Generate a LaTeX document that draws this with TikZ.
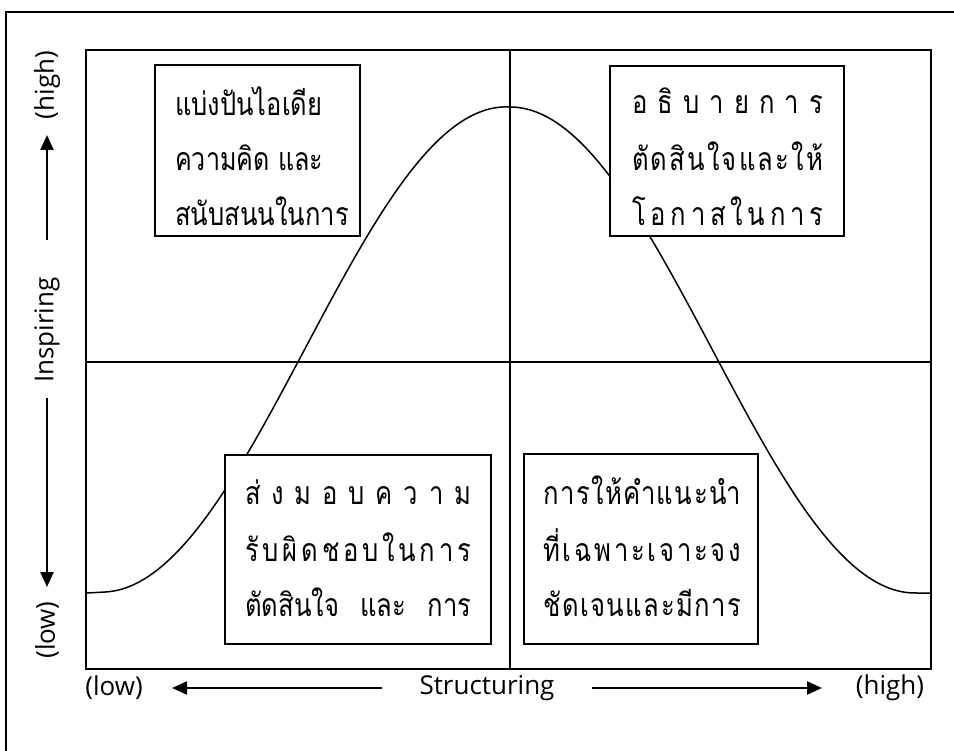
\documentclass[tikz,border=0pt]{standalone}
\usepackage{fontspec}
\setmainfont{Open Sans}
\newfontfamily\thai[Script=Thai]{Loma}
\usetikzlibrary{arrows.meta}
\newlength\natw
\newcommand\fitto[2]{\settowidth{\natw}{#2}%
  \ifdim\fpeval{0.8*\the\natw}pt>#1\relax\scalebox{\fpeval{(#1)/(\the\natw)}}[1]{#2}%
  \else\scalebox{0.8}[1]{\makebox[\fpeval{(#1)/0.8}pt][l]{#2}}\fi}
\begin{document}
\begin{tikzpicture}[x=1pt,y=-1pt,
  lbl/.style={font=\fontsize{26}{30}\selectfont, inner sep=0pt},
  th/.style={font=\thai\fontsize{32}{38}\selectfont, inner sep=0pt, anchor=base west},
  qbox/.style={draw, line width=1.6pt, fill=white, minimum width=#1, inner sep=0pt},
  arr/.style={line width=2.4pt, -{Triangle[length=15pt,width=13pt]}},
  frame/.style={line width=2pt}]
\useasboundingbox (0,0) rectangle (954,751);
% outer frame (open to the right and bottom)
\coordinate (fa) at (954,12);
\coordinate (fb) at (6,12);
\coordinate (fc) at (6,751);
\draw[frame] (fa) -- (fb) -- (fc);
% plot area
\coordinate (pa) at (86,50);
\coordinate (pb) at (931,669);
\draw[line width=1.5pt] (pa) rectangle (pb);
\coordinate (vt) at (510,50);
\coordinate (vb) at (510,669);
\coordinate (hl) at (86,362);
\coordinate (hr) at (931,362);
\draw[line width=1.3pt] (vt) -- (vb);
\draw[line width=1.3pt] (hl) -- (hr);
% bell curve
\draw[line width=1.5pt, samples=240, domain=87:931]
  plot (\x, {593-243*(1+cos(min(abs(\x-510),405)/405*180)) - (\x<510)*6*(1-min(abs(\x-510),423)/423)*min(abs(\x-510),423)/423*4});
% quadrant boxes
\node[qbox=205pt, minimum height=171pt] (tl) at (257.5,150.5) {};
\node[qbox=234pt, minimum height=170pt] (tr) at (727,151) {};
\node[qbox=266pt, minimum height=189pt] (bl) at (358,549.5) {};
\node[qbox=234pt, minimum height=190pt] (br) at (641,549) {};
% texts
\node[th] (tl1) at (175,116) {\fitto{147pt}{แบ่งปันไอเดีย}};
\node[th] (tl2) at (175,171) {\fitto{148pt}{ความคิด และ}};
\node[th] (tl3) at (175,226) {\fitto{178pt}{สนับสนนในการ}};
\node[th] (tr1) at (632,114) {\fitto{191pt}{อ\hfill ธิ\hfill บ\hfill า\hfill ย\hfill ก\hfill า\hfill ร}};
\node[th] (tr2) at (632,171) {\fitto{191pt}{ตั\hfill ด\hfill สิ\hfill น\hfill ใ\hfill จ\hfill แ\hfill ล\hfill ะ\hfill ใ\hfill ห้}};
\node[th] (tr3) at (632,226) {\fitto{191pt}{โ\hfill อ\hfill ก\hfill า\hfill ส\hfill ใ\hfill น\hfill ก\hfill า\hfill ร}};
\node[th] (bl1) at (245,504) {\fitto{226pt}{ส่\hfill ง\hfill ม\hfill อ\hfill บ\hfill ค\hfill ว\hfill า\hfill ม}};
\node[th] (bl2) at (245,561) {\fitto{226pt}{รั\hfill บ\hfill ผิ\hfill ด\hfill ช\hfill อ\hfill บ\hfill ใ\hfill น\hfill ก\hfill า\hfill ร}};
\node[th] (bl3) at (245,616) {\fitto{226pt}{ตัดสินใจ\ \hfill และ\ \hfill การ}};
\node[th] (br1) at (543,504) {\fitto{198pt}{ก\hfill า\hfill ร\hfill ใ\hfill ห้\hfill คำ\hfill แ\hfill น\hfill ะ\hfill นำ}};
\node[th] (br2) at (543,561) {\fitto{198pt}{ที่\hfill เ\hfill ฉ\hfill พ\hfill า\hfill ะ\hfill เ\hfill จ\hfill า\hfill ะ\hfill จ\hfill ง}};
\node[th] (br3) at (543,616) {\fitto{198pt}{ชั\hfill ด\hfill เ\hfill จ\hfill น\hfill แ\hfill ล\hfill ะ\hfill มี\hfill ก\hfill า\hfill ร}};
% horizontal axis
\node[lbl] (xlow) at (114,688) {(low)};
\node[lbl] (xlab) at (487,688) {Structuring};
\node[lbl] (xhigh) at (890,688) {(high)};
\coordinate (xa1) at (382,688);
\coordinate (xa2) at (172,688);
\coordinate (xb1) at (592,688);
\coordinate (xb2) at (822,688);
\draw[arr] (xa1) -- (xa2);
\draw[arr] (xb1) -- (xb2);
% vertical axis
\node[lbl, rotate=90] (yhigh) at (47,85) {(high)};
\node[lbl, rotate=90] (ylab) at (47,330) {Inspiring};
\node[lbl, rotate=90] (ylow) at (47,630) {(low)};
\coordinate (ya1) at (47,240);
\coordinate (ya2) at (47,135);
\coordinate (yb1) at (47,398);
\coordinate (yb2) at (47,587);
\draw[arr] (ya1) -- (ya2);
\draw[arr] (yb1) -- (yb2);
\end{tikzpicture}
\end{document}
